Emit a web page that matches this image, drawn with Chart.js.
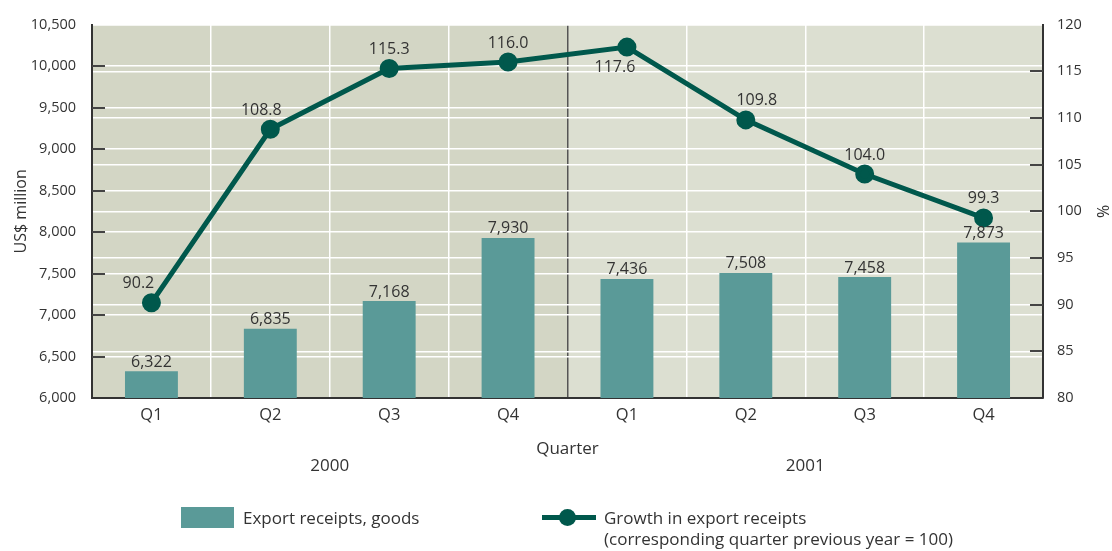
<!DOCTYPE html>
<html>
<head>
<meta charset="utf-8">
<script src="https://cdn.jsdelivr.net/npm/chart.js@4/dist/chart.umd.min.js"></script>
<style>
  html, body { margin: 0; padding: 0; background: #fff; }
  #wrap { position: relative; width: 1112px; height: 551px; font-family: "Open Sans", sans-serif; color: #333; }
  #chart { position: absolute; left: 0; top: 0; }
  .legend-item { position: absolute; font-size: 17px; line-height: 21px; color: #333; }
  .swatch { position: absolute; left: 181px; top: 507px; width: 53px; height: 21px; background: #5a9a98; }
  .lline { position: absolute; left: 542px; top: 515px; width: 54px; height: 5px; background: #00584c; }
  .ldot { position: absolute; left: 559px; top: 509px; width: 17px; height: 17px; border-radius: 50%; background: #00584c; }
</style>
</head>
<body>
<div id="wrap">
  <canvas id="chart" width="1112" height="551"></canvas>
  <div class="swatch"></div>
  <div class="legend-item" style="left:243px; top:507px;">Export receipts, goods</div>
  <div class="lline"></div>
  <div class="ldot"></div>
  <div class="legend-item" style="left:604px; top:507px;">Growth in export receipts<br>(corresponding quarter previous year = 100)</div>
</div>
<script>
// Quarterly export receipts (goods) and year-on-year growth index
const quarters = ['Q1', 'Q2', 'Q3', 'Q4', 'Q1', 'Q2', 'Q3', 'Q4'];
const years = ['2000', '2001'];
const exportReceipts = [6322, 6835, 7168, 7930, 7436, 7508, 7458, 7873];
const growthIndex = [90.2, 108.8, 115.3, 116.0, 117.6, 109.8, 104.0, 99.3];
const leftTicks = [6000, 6500, 7000, 7500, 8000, 8500, 9000, 9500, 10000, 10500];
const rightTicks = [80, 85, 90, 95, 100, 105, 110, 115, 120];

// horizontal nudges keeping growth labels clear of the line
const growthLabelShift = [-13, -9, 0, 0, -12, 11, 0, 0];

const FONT = '"Open Sans", sans-serif';
const TEXT = '#333333';
const BAR = '#5a9a98';
const LINE = '#00584c';

const decor = {
  id: 'decor',
  beforeDraw(chart) {
    const { ctx, chartArea: a, scales } = chart;
    const mid = (scales.x.getPixelForValue(3) + scales.x.getPixelForValue(4)) / 2;
    ctx.save();
    ctx.fillStyle = '#d3d6c5';
    ctx.fillRect(a.left, a.top, mid - a.left, a.bottom - a.top);
    ctx.fillStyle = '#dcdfd1';
    ctx.fillRect(mid, a.top, a.right - mid, a.bottom - a.top);
    ctx.restore();
  },
  afterDatasetsDraw(chart) {
    const { ctx } = chart;
    ctx.save();
    ctx.font = '16px ' + FONT;
    ctx.fillStyle = TEXT;
    ctx.textAlign = 'center';
    // bar value labels
    chart.getDatasetMeta(1).data.forEach((el, i) => {
      ctx.textBaseline = 'bottom';
      ctx.fillText(exportReceipts[i].toLocaleString('en-US'), el.x, el.y - 1);
    });
    // growth value labels
    chart.getDatasetMeta(0).data.forEach((el, i) => {
      const txt = growthIndex[i].toFixed(1);
      const x = el.x + growthLabelShift[i];
      if (i === 4) {
        ctx.textBaseline = 'top';
        ctx.fillText(txt, x, el.y + 12);
      } else {
        ctx.textBaseline = 'bottom';
        ctx.fillText(txt, x, el.y - 11);
      }
    });
    ctx.restore();
  },
  afterDraw(chart) {
    const { ctx, chartArea: a, scales } = chart;
    ctx.save();
    // inward tick marks
    ctx.strokeStyle = '#444';
    ctx.lineWidth = 2;
    leftTicks.slice(1, -1).forEach(v => {
      const y = Math.round(scales.y.getPixelForValue(v));
      ctx.beginPath(); ctx.moveTo(a.left, y); ctx.lineTo(a.left + 13, y); ctx.stroke();
    });
    rightTicks.slice(1, -1).forEach(v => {
      const y = Math.round(scales.y1.getPixelForValue(v));
      ctx.beginPath(); ctx.moveTo(a.right, y); ctx.lineTo(a.right - 13, y); ctx.stroke();
    });
    // axis titles
    ctx.fillStyle = TEXT;
    ctx.font = '16px ' + FONT;
    ctx.textAlign = 'center';
    ctx.textBaseline = 'middle';
    const cy = (a.top + a.bottom) / 2;
    ctx.save(); ctx.translate(21, cy); ctx.rotate(-Math.PI / 2); ctx.fillText('US$ million', 0, 0); ctx.restore();
    ctx.save(); ctx.translate(1104, cy); ctx.rotate(-Math.PI / 2); ctx.fillText('%', 0, 0); ctx.restore();
    ctx.font = '17px ' + FONT;
    ctx.fillText('Quarter', (a.left + a.right) / 2, 449);
    const x = scales.x;
    ctx.fillText(years[0], (x.getPixelForValue(1) + x.getPixelForValue(2)) / 2, 466);
    ctx.fillText(years[1], (x.getPixelForValue(5) + x.getPixelForValue(6)) / 2, 466);
    ctx.restore();
  }
};

new Chart(document.getElementById('chart'), {
  data: {
    labels: quarters,
    datasets: [
      {
        type: 'line',
        label: 'Growth in export receipts',
        data: growthIndex,
        yAxisID: 'y1',
        borderColor: LINE,
        backgroundColor: LINE,
        borderWidth: 5,
        pointRadius: 7,
        pointBackgroundColor: LINE,
        pointBorderColor: LINE,
        tension: 0,
        order: 0
      },
      {
        type: 'bar',
        label: 'Export receipts, goods',
        data: exportReceipts,
        yAxisID: 'y',
        backgroundColor: BAR,
        barPercentage: 0.445,
        categoryPercentage: 1,
        order: 1
      }
    ]
  },
  options: {
    responsive: false,
    animation: false,
    layout: { padding: { top: 20, left: 0, right: 0, bottom: 0 } },
    plugins: { legend: { display: false }, tooltip: { enabled: false } },
    scales: {
      x: {
        offset: true,
        grid: {
          offset: true,
          drawTicks: false,
          lineWidth: 1.5,
          color: ctx => ctx.index === 4 ? '#555555' : '#ffffff'
        },
        border: { color: '#333', width: 2 },
        ticks: { color: TEXT, font: { family: FONT, size: 16.5 }, padding: 7 },
        afterFit: s => { s.height = 153; }
      },
      y: {
        position: 'left',
        min: 6000, max: 10500,
        afterBuildTicks: s => { s.ticks = leftTicks.map(v => ({ value: v })); },
        grid: { drawTicks: false, color: '#ffffff', lineWidth: 1.5 },
        border: { color: '#333', width: 2 },
        ticks: { color: TEXT, font: { family: FONT, size: 14.5 }, padding: 16,
                 callback: v => v.toLocaleString('en-US') },
        afterFit: s => { s.width = 92; }
      },
      y1: {
        position: 'right',
        min: 80, max: 120,
        afterBuildTicks: s => { s.ticks = rightTicks.map(v => ({ value: v })); },
        grid: { drawTicks: false, color: '#ffffff', lineWidth: 1.5 },
        border: { color: '#333', width: 2 },
        ticks: { color: TEXT, font: { family: FONT, size: 14.5 }, padding: 14 },
        afterFit: s => { s.width = 69; }
      }
    }
  },
  plugins: [decor]
});
</script>
</body>
</html>
